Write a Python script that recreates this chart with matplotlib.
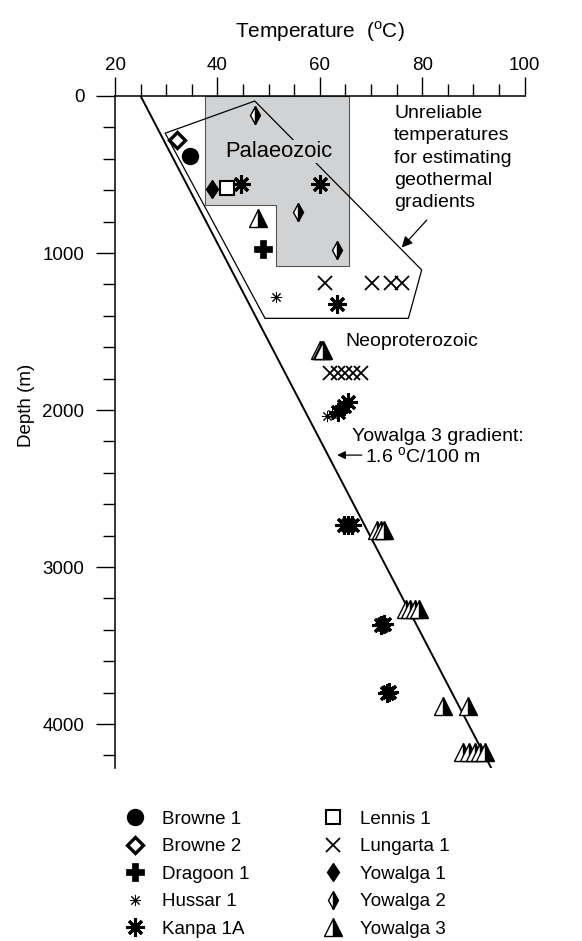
import numpy as np
import matplotlib
matplotlib.use('Agg')
import matplotlib.pyplot as plt
from matplotlib.patches import Polygon
from matplotlib.ticker import MultipleLocator

plt.rcParams['font.family'] = ['Liberation Sans', 'DejaVu Sans']
plt.rcParams['mathtext.fontset'] = 'custom'
plt.rcParams['mathtext.rm'] = 'Liberation Sans'
plt.rcParams['font.size'] = 14

# bottom-hole temperatures (deg C) against depth (m), per well
browne1_t = [34.6]
browne1_d = [380]
browne2_t = [32.2]
browne2_d = [280]
dragoon1_t = [49.0]
dragoon1_d = [977]
hussar1_t = [51.4, 61.4, 62.3]
hussar1_d = [1278, 2040, 2025]
kanpa1a_t = [44.7, 60.0, 63.3, 65.6, 64.8, 63.5, 64.8, 65.5, 66.2, 72.0, 72.6, 73.1, 73.5]
kanpa1a_d = [562, 562, 1327, 1950, 1975, 2015, 2735, 2730, 2735, 3370, 3365, 3800, 3795]
lennis1_t = [41.8]
lennis1_d = [584]
lungarta1_t = [61.0, 70.1, 74.0, 76.0, 62.0, 63.5, 65.0, 66.5, 68.0]
lungarta1_d = [1189, 1189, 1189, 1189, 1766, 1766, 1766, 1766, 1766]
yowalga1_t = [38.9]
yowalga1_d = [594]
yowalga2_t = [47.3, 55.7, 63.4]
yowalga2_d = [121, 737, 981]
yowalga3_t = [47.9, 60.1, 60.4, 60.7, 71.2, 71.9, 72.6, 76.8, 77.6, 78.6, 79.4,
              84.0, 89.0, 88.0, 89.1, 90.3, 91.2, 92.2]
yowalga3_d = [775, 1618, 1618, 1618, 2764, 2764, 2764, 3268, 3268, 3268, 3268,
              3885, 3885, 4178, 4178, 4178, 4178, 4178]

# Yowalga 3 gradient
surface_t = 25.0
gradient = 1.6  # deg C per 100 m
line_d = np.array([0, 4280])
line_t = surface_t + gradient * line_d / 100

# Palaeozoic block and the unreliable-temperature outline
palaeozoic_t = [37.6, 65.7, 65.7, 51.4, 51.4, 37.6]
palaeozoic_d = [0, 0, 1083, 1083, 694, 694]
unreliable_t = [29.8, 47.3, 79.9, 77.3, 49.3]
unreliable_d = [237, 32, 1108, 1416, 1416]

grey = '#d1d2d4'

wells = [
    ('Browne 1', browne1_t, browne1_d, dict(marker='o', ms=11.5, mfc='black', mec='black')),
    ('Browne 2', browne2_t, browne2_d, dict(marker='D', ms=8, mfc='white', mec='black', mew=2.4)),
    ('Dragoon 1', dragoon1_t, dragoon1_d, dict(marker='P', ms=13, mfc='black', mec='black', mew=0.5)),
    ('Hussar 1', hussar1_t, hussar1_d, dict(marker=(8, 2, 0), ms=8, mec='black', mew=0.7)),
    ('Kanpa 1A', kanpa1a_t, kanpa1a_d, dict(marker=(8, 2, 0), ms=13, mec='black', mew=2.2)),
    ('Lennis 1', lennis1_t, lennis1_d, dict(marker='s', ms=10, mfc='white', mec='black', mew=1.5)),
    ('Lungarta 1', lungarta1_t, lungarta1_d, dict(marker='x', ms=9.5, mec='black', mew=1.3)),
    ('Yowalga 1', yowalga1_t, yowalga1_d, dict(marker='d', ms=9.5, mfc='black', mec='black')),
    ('Yowalga 2', yowalga2_t, yowalga2_d, dict(marker='d', ms=9, mfc='black', mfcalt='white',
                                               fillstyle='right', mec='black', mew=1)),
    ('Yowalga 3', yowalga3_t, yowalga3_d, dict(marker='^', ms=13, mfc='black', mfcalt='white',
                                               fillstyle='right', mec='black', mew=1)),
]

fig = plt.figure(figsize=(5.82, 9.41), dpi=100)
ax = fig.add_axes([0.1976, 0.1838, 0.7038, 0.7142])

ax.add_patch(Polygon(np.column_stack([palaeozoic_t, palaeozoic_d]), closed=True,
                     fc=grey, ec='#555555', lw=0.8, zorder=1))
ax.add_patch(Polygon(np.column_stack([unreliable_t, unreliable_d]), closed=True,
                     fill=False, ec='black', lw=0.9, zorder=2))
ax.plot(line_t, line_d, color='black', lw=1.4, zorder=2)

for name, t, d, st in wells:
    ax.plot(t, d, ls='none', label=name, zorder=4, clip_on=False, **st)

ax.text(52.1, 354, 'Palaeozoic', ha='center', va='center', fontsize=15.8, zorder=3,
        bbox=dict(fc=grey, ec='none', pad=1))
ax.text(74.5, 55, 'Unreliable\ntemperatures\nfor estimating\ngeothermal\ngradients',
        ha='left', va='top', linespacing=1.42)
ax.annotate('', xy=(76.0, 965), xytext=(80.9, 790),
            arrowprops=dict(arrowstyle='-|>', lw=0.9, color='black', mutation_scale=16,
                            shrinkA=0, shrinkB=0))
ax.text(64.9, 1565, 'Neoproterozoic', ha='left', va='center')
ax.text(66.2, 2170, 'Yowalga 3 gradient:', ha='left', va='center')
ax.text(68.8, 2297, '1.6 $^{\\mathrm{o}}$C/100 m', ha='left', va='center')
ax.annotate('', xy=(63.4, 2287), xytext=(68.2, 2287),
            arrowprops=dict(arrowstyle='-|>', lw=0.9, color='black', mutation_scale=12,
                            shrinkA=0, shrinkB=0))

ax.set_xlim(20, 100)
ax.set_ylim(4280, 0)
ax.xaxis.tick_top()
ax.xaxis.set_label_position('top')
ax.xaxis.set_major_locator(MultipleLocator(20))
ax.xaxis.set_minor_locator(MultipleLocator(5))
ax.yaxis.set_major_locator(MultipleLocator(1000))
ax.yaxis.set_minor_locator(MultipleLocator(200))
ax.tick_params(which='major', length=14, width=1.0, direction='out', labelsize=13.5)
ax.tick_params(which='minor', length=8.5, width=1.0, direction='out')
ax.tick_params(axis='x', which='major', pad=2)
ax.tick_params(axis='y', which='major', pad=8)
for side in ['right', 'bottom']:
    ax.spines[side].set_visible(False)
for side in ['top', 'left']:
    ax.spines[side].set_linewidth(1.1)

ax.set_xlabel('Temperature  ($^{\\mathrm{o}}$C)', labelpad=14, fontsize=15)
ax.set_ylabel('Depth (m)', fontsize=13.5)
ax.yaxis.set_label_coords(-0.195, 0.54)

fig.legend(loc='upper left', bbox_to_anchor=(0.2158, 0.1385), ncol=2, frameon=False,
           borderpad=0, borderaxespad=0, handlelength=1.0, handletextpad=0.93,
           columnspacing=3.98, labelspacing=0.55, fontsize=13.5)

fig.savefig('out.png', dpi=100)
